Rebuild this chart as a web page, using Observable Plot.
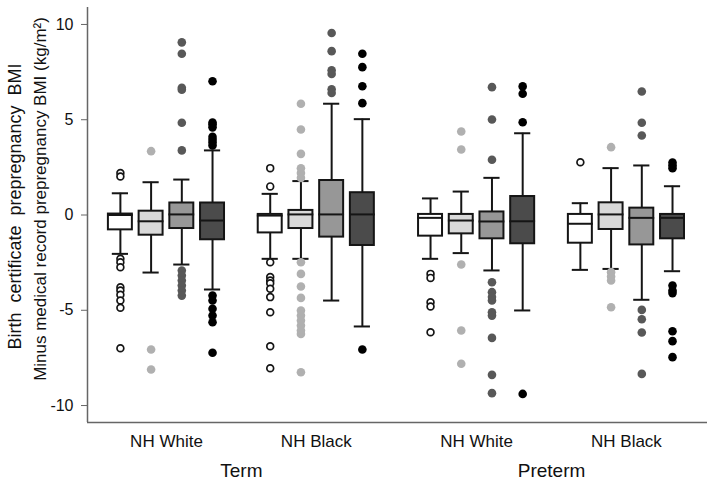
<!DOCTYPE html>
<html><head><meta charset="utf-8">
<script src="https://cdn.jsdelivr.net/npm/d3@7"></script>
<script src="https://cdn.jsdelivr.net/npm/@observablehq/plot@0.6"></script>
<style>body{margin:0;background:#fff} #chart svg{display:block}</style>
</head><body><div id="chart"></div><script>
// Categories
const periods = ["Term", "Preterm"];
const races = ["NH White", "NH Black"];
const series = ["s1", "s2", "s3", "s4"]; // four box shades within each group
const yTicks = [-10, -5, 0, 5, 10];
const yLabel1 = "Birth\u00a0 certificate\u00a0 prepregnancy\u00a0 BMI";
const yLabel2 = "Minus medical record prepregnancy BMI (kg/m\u00b2)";

// Box statistics, order: Term NH White s1..s4, Term NH Black s1..s4, Preterm NH White s1..s4, Preterm NH Black s1..s4
const whiskerLow  = [-2.04, -3.02, -2.60, -3.91,  -2.30, -2.30, -4.49, -5.85,  -2.30, -2.00, -2.91, -5.01,  -2.88, -2.83, -4.45, -2.95];
const q1          = [-0.78, -1.06, -0.71, -1.30,  -0.94, -0.71, -1.16, -1.60,  -1.11, -0.99, -1.25, -1.51,  -1.48, -0.76, -1.57, -1.25];
const median      = [ 0.00, -0.33,  0.03, -0.29,  -0.03,  0.03,  0.03,  0.03,  -0.15, -0.29, -0.34, -0.33,  -0.46,  0.03, -0.15, -0.15];
const q3          = [ 0.05,  0.20,  0.63,  0.63,   0.03,  0.24,  1.81,  1.17,   0.03,  0.03,  0.16,  0.97,   0.03,  0.64,  0.36,  0.03];
const whiskerHigh = [ 1.14,  1.72,  1.86,  3.39,   1.11,  1.78,  5.84,  5.03,   0.87,  1.23,  1.95,  4.29,   0.62,  2.46,  2.60,  1.51];
const outliers = [
  [2.2, 2.02, -2.3, -2.48, -2.74, -3.79, -3.96, -4.19, -4.49, -4.87, -6.99],
  [3.35, -7.06, -8.11],
  [3.39, 4.84, 6.68, 6.57, 8.46, 9.06, -2.91, -3.18, -3.44, -3.70, -3.96, -4.23],
  [7.02, 4.85, 4.75, 4.6, 4.1, 3.95, 3.8, 3.65, -4.23, -4.49, -4.92, -5.28, -5.63, -7.23],
  [1.5, 2.46, -2.48, -3.26, -3.44, -3.58, -3.87, -4.31, -5.1, -6.89, -8.04],
  [1.95, 2.2, 2.45, 3.21, 4.49, 5.84, -2.48, -3.09, -3.75, -4.35, -5.01, -5.28, -5.54, -5.8, -6.06, -6.24, -8.25],
  [9.55, 8.6, 7.6, 7.4, 6.6, 6.4],
  [8.46, 7.76, 6.76, 5.87, -7.06],
  [-3.09, -3.3, -4.58, -4.8, -6.15],
  [4.38, 3.44, -2.6, -6.06, -7.81],
  [6.71, 5.01, 2.9, -3.53, -4.05, -4.31, -4.49, -5.1, -5.28, -6.45, -8.39, -9.35],
  [6.75, 6.36, 4.87, -9.39],
  [2.77],
  [3.56, -3.0, -3.23, -3.44, -4.84],
  [6.48, 4.84, 4.17, -4.98, -5.47, -6.17, -8.34],
  [2.75, 2.6, 2.45, -3.7, -3.96, -4.1, -6.1, -6.62, -7.46]
];

// Styling
const boxFill = ["#ffffff", "#d9d9d9", "#979797", "#4b4b4b"];
const dotFill = ["#ffffff", "#b0b0b0", "#585858", "#000000"];
const ink = "#151515";

// Layout in x units
const periodGap = 2.07, subStep = 0.205, boxHalf = 0.08, capHalf = 0.054, medHalf = 0.086;
const xDomain = [-0.527, 3.611];
const yDomain = [-10.89, 10.89];

const boxes = [];
const points = [];
const groupTicks = [];
const tickLabel = new Map();
periods.forEach((p, pi) => races.forEach((r, ri) => {
  const gx = pi * periodGap + ri;
  groupTicks.push(gx);
  tickLabel.set(gx, r);
  series.forEach((s, si) => {
    const i = (pi * 2 + ri) * 4 + si;
    const x = gx + (si - 1.5) * subStep;
    boxes.push({period: p, race: r, series: s, si, x, lo: whiskerLow[i], q1: q1[i], med: median[i], q3: q3[i], hi: whiskerHigh[i], fill: boxFill[si]});
    outliers[i].forEach(v => points.push({x, y: v, si, fill: dotFill[si]}));
  });
}));

const chart = Plot.plot({
  width: 714, height: 485,
  marginLeft: 87, marginRight: 7, marginTop: 7, marginBottom: 63,
  style: {fontFamily: "'Liberation Sans', Arial, sans-serif", fontSize: "16px", color: "#111", background: "#fff"},
  x: {domain: xDomain},
  y: {domain: yDomain},
  color: {type: "identity"},
  marks: [
    Plot.ruleX([xDomain[0]], {stroke: "#666", strokeWidth: 1.5}),
    Plot.ruleY([yDomain[0]], {stroke: "#666", strokeWidth: 1.5}),
    Plot.axisY({ticks: yTicks, tickFormat: d => String(d), tickSize: 6, tickPadding: 8, fontSize: 16, label: null, stroke: "#666"}),
    Plot.axisX({ticks: groupTicks, tickFormat: d => tickLabel.get(d), tickSize: 0, tickPadding: 12, fontSize: 17, label: null}),
    Plot.text(periods, {x: (d, i) => i * periodGap + 0.5, frameAnchor: "bottom", lineAnchor: "top", dy: 41, fontSize: 19}),
    Plot.text([yLabel1], {frameAnchor: "left", textAnchor: "middle", rotate: -90, dx: 15 - 87, dy: 206 - 214.5, fontSize: 18}),
    Plot.text([yLabel2], {frameAnchor: "left", textAnchor: "middle", rotate: -90, dx: 40 - 87, dy: 198.5 - 214.5, fontSize: 17}),
    Plot.ruleX(boxes, {x: "x", y1: "lo", y2: "hi", stroke: ink, strokeWidth: 2}),
    Plot.ruleY(boxes, {y: "lo", x1: d => d.x - capHalf, x2: d => d.x + capHalf, stroke: ink, strokeWidth: 2}),
    Plot.ruleY(boxes, {y: "hi", x1: d => d.x - capHalf, x2: d => d.x + capHalf, stroke: ink, strokeWidth: 2}),
    Plot.rect(boxes, {x1: d => d.x - boxHalf, x2: d => d.x + boxHalf, y1: "q1", y2: "q3", fill: "fill", stroke: ink, strokeWidth: 2}),
    Plot.ruleY(boxes, {y: "med", x1: d => d.x - medHalf, x2: d => d.x + medHalf, stroke: ink, strokeWidth: 2}),
    Plot.dot(points.filter(d => d.si === 0), {x: "x", y: "y", r: 3.4, fill: "#fff", stroke: ink, strokeWidth: 1.7}),
    Plot.dot(points.filter(d => d.si > 0), {x: "x", y: "y", r: 4.3, fill: "fill", stroke: "none"})
  ]
});
document.getElementById("chart").appendChild(chart);
</script></body></html>
